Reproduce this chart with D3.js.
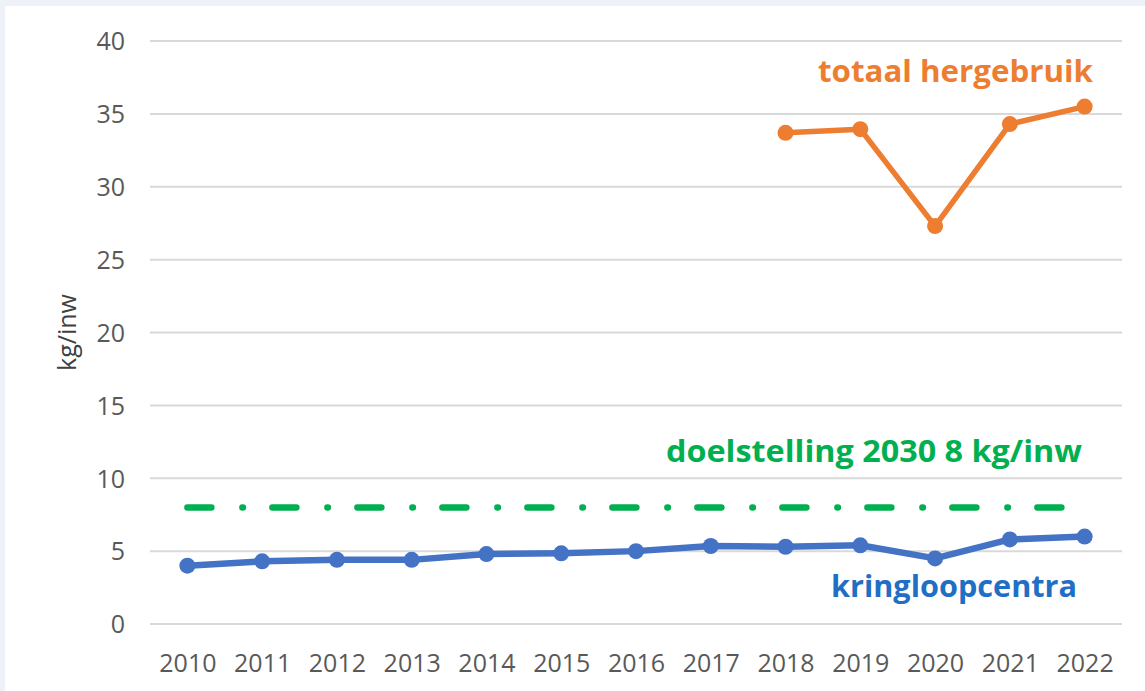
<!DOCTYPE html>
<html>
<head>
<meta charset="utf-8">
<script src="https://cdn.jsdelivr.net/npm/d3@7"></script>
<style>
  html, body { margin: 0; padding: 0; background: #eef1f7; }
  svg { display: block; }
</style>
</head>
<body>
<svg id="chart" width="1145" height="691"></svg>
<script>
const years = [2010, 2011, 2012, 2013, 2014, 2015, 2016, 2017, 2018, 2019, 2020, 2021, 2022];
const kringloopcentra = [4.0, 4.3, 4.4, 4.4, 4.8, 4.85, 5.0, 5.35, 5.3, 5.4, 4.5, 5.8, 6.0];
const totaalYears = [2018, 2019, 2020, 2021, 2022];
const totaalHergebruik = [33.7, 33.95, 27.3, 34.3, 35.5];
const doelstelling = 8;
const yTicks = [0, 5, 10, 15, 20, 25, 30, 35, 40];

(function () {
const svg = d3.select("#chart");
const W = 1145, H = 691;

svg.append("rect").attr("x", 0).attr("y", 0).attr("width", W).attr("height", H).attr("fill", "#eef1f7");
svg.append("rect").attr("x", 5).attr("y", 6).attr("width", W - 5).attr("height", H - 6).attr("fill", "#ffffff");

const pLeft = 150, pRight = 1122, pTop = 41, pBottom = 624;

const x = d3.scalePoint().domain(years).range([pLeft, pRight]).padding(0.5);
const y = d3.scaleLinear().domain([0, 40]).range([pBottom, pTop]);

// gridlines
svg.append("g").selectAll("line").data(yTicks).join("line")
  .attr("x1", pLeft).attr("x2", pRight)
  .attr("y1", d => y(d)).attr("y2", d => y(d))
  .attr("stroke", "#d9d9d9").attr("stroke-width", 2);

// y axis labels
const yAxis = d3.axisLeft(y).tickValues(yTicks).tickSize(0).tickPadding(0);
const gy = svg.append("g").attr("transform", "translate(125,0)").call(yAxis);
gy.select(".domain").remove();
gy.selectAll("text")
  .attr("font-family", "Open Sans, sans-serif").attr("font-size", 25)
  .attr("fill", "#595959").attr("text-anchor", "end").attr("dy", "0.35em");

// x axis labels
const xAxis = d3.axisBottom(x).tickSize(0).tickPadding(0).tickFormat(d3.format("d"));
const gx = svg.append("g").attr("transform", "translate(0,672)").call(xAxis);
gx.select(".domain").remove();
gx.selectAll("text")
  .attr("font-family", "Open Sans, sans-serif").attr("font-size", 25)
  .attr("fill", "#595959").attr("dy", 0);

// y title
svg.append("text")
  .attr("transform", `translate(76,${(pTop + pBottom) / 2}) rotate(-90)`)
  .attr("text-anchor", "middle")
  .attr("font-family", "Open Sans, sans-serif").attr("font-size", 25)
  .attr("fill", "#404040")
  .text("kg/inw");

// target line
const targetLine = d3.line().x(d => x(d)).y(() => y(doelstelling));
svg.append("path")
  .datum([years[0], years[years.length - 1]])
  .attr("d", targetLine)
  .attr("fill", "none").attr("stroke", "#00b050").attr("stroke-width", 6.5)
  .attr("stroke-linecap", "round")
  .attr("stroke-dasharray", "24 31 0.5 29.5");

// kringloopcentra
const kData = years.map((yr, i) => ({ yr, v: kringloopcentra[i] }));
const line = d3.line().x(d => x(d.yr)).y(d => y(d.v));
svg.append("path").datum(kData).attr("d", line)
  .attr("fill", "none").attr("stroke", "#4472c4").attr("stroke-width", 6.5)
  .attr("stroke-linejoin", "round");
svg.append("g").selectAll("circle").data(kData).join("circle")
  .attr("cx", d => x(d.yr)).attr("cy", d => y(d.v)).attr("r", 8)
  .attr("fill", "#4472c4");

// totaal hergebruik
const tData = totaalYears.map((yr, i) => ({ yr, v: totaalHergebruik[i] }));
svg.append("path").datum(tData).attr("d", line)
  .attr("fill", "none").attr("stroke", "#ed7d31").attr("stroke-width", 5.5)
  .attr("stroke-linejoin", "round");
svg.append("g").selectAll("circle").data(tData).join("circle")
  .attr("cx", d => x(d.yr)).attr("cy", d => y(d.v)).attr("r", 8)
  .attr("fill", "#ed7d31");

// labels
function label(txt, xs, xe, base, color) {
  svg.append("text")
    .attr("x", xs).attr("y", base)
    .attr("font-family", "Open Sans, sans-serif").attr("font-weight", "bold")
    .attr("font-size", 30).attr("fill", color)
    .attr("textLength", xe - xs).attr("lengthAdjust", "spacingAndGlyphs")
    .text(txt);
}
label("totaal hergebruik", 818, 1093, 82, "#ed7d31");
label("doelstelling 2030 8 kg/inw", 666, 1082, 462, "#00b050");
label("kringloopcentra", 831, 1077, 597, "#1f6fc4");
})();
</script>
</body>
</html>
